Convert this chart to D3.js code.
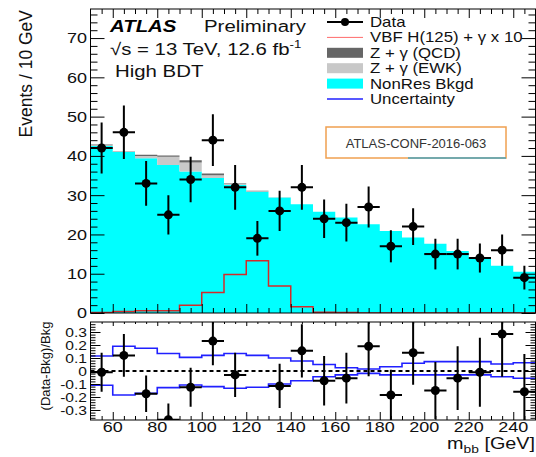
<!DOCTYPE html>
<html>
<head>
<meta charset="utf-8">
<script src="https://cdn.jsdelivr.net/npm/d3@7"></script>
<style>
body { margin: 0; background: #fff; }
svg { display: block; font-family: "Liberation Sans", Arial, Helvetica, sans-serif; }
</style>
</head>
<body>
<div id="chart"></div>
<script>
// bins: lower edge of each 10 GeV bin in m_bb
const binLow = [50, 60, 70, 80, 90, 100, 110, 120, 130, 140, 150, 160, 170, 180, 190, 200, 210, 220, 230, 240];
const binWidth = 10;

// stacked backgrounds (events / 10 GeV)
const nonRes = [42.5, 41.0, 39.4, 37.7, 36.0, 34.4, 32.6, 30.9, 29.4, 27.7, 25.8, 24.3, 22.6, 20.9, 19.2, 17.6, 15.8, 13.9, 12.0, 10.5];
const zgEwk  = [0.2, 0.1, 0.6, 2.1, 2.3, 0.7, 0.3, 0.1, 0.1, 0, 0, 0, 0, 0, 0, 0, 0, 0, 0, 0];
const zgQcd  = [0.2, 0.1, 0.3, 0.3, 0.6, 0.4, 0.15, 0.1, 0, 0, 0, 0, 0, 0, 0, 0, 0, 0, 0, 0];
// signal x 10
const vbfSig = [0.1, 0.4, 0.6, 0.6, 2.0, 5.2, 9.8, 13.3, 6.9, 1.6, 0.2, 0.1, 0, 0, 0, 0, 0, 0, 0, 0];

// data
const dataVals = [42, 46, 33, 25, 34, 44, 32, 19, 26, 32, 24, 23, 27, 17, 22, 15, 15, 14, 16, 9];
const dataErr  = [6.5, 6.8, 5.7, 5.0, 5.8, 6.6, 5.7, 4.4, 5.1, 5.7, 4.9, 4.8, 5.2, 4.1, 4.7, 3.9, 3.9, 3.7, 4.0, 3.0];

// ratio panel (Data-Bkg)/Bkg
const ratioVals = [-0.01, 0.12, -0.175, -0.375, -0.125, 0.23, -0.03, -0.39, -0.115, 0.155, -0.075, -0.055, 0.19, -0.185, 0.14, -0.15, -0.055, -0.01, 0.285, -0.16];
const ratioErr  = [0.15, 0.165, 0.14, 0.125, 0.15, 0.185, 0.17, 0.14, 0.17, 0.205, 0.19, 0.195, 0.23, 0.195, 0.245, 0.22, 0.245, 0.265, 0.33, 0.29];
const uncUp   = [0.115, 0.19, 0.175, 0.135, 0.105, 0.12, 0.135, 0.12, 0.10, 0.077, 0.05, 0.025, 0.015, 0.033, 0.06, 0.072, 0.072, 0.072, 0.054, 0.064];
const uncDown = [-0.11, -0.185, -0.172, -0.128, -0.108, -0.12, -0.133, -0.125, -0.1, -0.075, -0.044, -0.03, -0.018, -0.03, -0.03, -0.03, -0.03, -0.03, -0.044, -0.056];

// tick labels
const yTicks = [0, 10, 20, 30, 40, 50, 60, 70];
const xTicks = [60, 80, 100, 120, 140, 160, 180, 200, 220, 240];
const rTicks = [-0.3, -0.2, -0.1, 0, 0.1, 0.2, 0.3];

const legendItems = [
    { label: "Data", kind: "data" },
    { label: "VBF H(125) + \u03b3 x 10", kind: "line", color: "#ff6b6b", width: 1 },
    { label: "Z + \u03b3 (QCD)", kind: "box", color: "#666666" },
    { label: "Z + \u03b3 (EWK)", kind: "box", color: "#c8c8c8" },
    { label: "NonRes Bkgd", kind: "box", color: "#00ffff" },
    { label: "Uncertainty", kind: "line", color: "#2020ff", width: 1.6 }
];

// horizontal stretch of the ROOT text
const SX = 1.2;

const W = 536, H = 457;
const svg = d3.select("#chart").append("svg")
    .attr("width", W)
    .attr("height", H);

const x = d3.scaleLinear().domain([50, 250]).range([90.5, 535.5]);
const y = d3.scaleLinear().domain([0, 77.4]).range([313, 9]);
const yr = d3.scaleLinear().domain([-0.377, 0.377]).range([420, 322]);

function text(g, tx, ty, str, size, anchor) {
    return g.append("text")
        .attr("transform", `translate(${tx},${ty}) scale(${SX},1)`)
        .attr("text-anchor", anchor || "start")
        .attr("font-size", size)
        .attr("fill", "#111")
        .text(str);
}

// step points for a histogram
function steps(lo, hi) {
    const pts = binLow.map((b, i) => [b, lo[i], hi[i]]);
    const n = binLow.length - 1;
    pts.push([binLow[n] + binWidth, lo[n], hi[n]]);
    return pts;
}

function ticks(g, axisFn, scale, values, size, tx, ty) {
    g.append("g")
        .attr("transform", `translate(${tx},${ty})`)
        .call(axisFn(scale).tickValues(values).tickSize(-size).tickFormat(""))
        .call(a => a.select(".domain").remove());
}

const defs = svg.append("defs");
defs.append("clipPath").attr("id", "clipMain").append("rect")
    .attr("x", x(50)).attr("y", y(77.4))
    .attr("width", x(250) - x(50)).attr("height", y(0) - y(77.4));
defs.append("clipPath").attr("id", "clipRatio").append("rect")
    .attr("x", x(50)).attr("y", yr(0.377))
    .attr("width", x(250) - x(50)).attr("height", yr(-0.377) - yr(0.377));

// ---------------- main panel ----------------
const main = svg.append("g").attr("clip-path", "url(#clipMain)");

const zeros = binLow.map(() => 0);
const topEwk = nonRes.map((v, i) => v + zgEwk[i]);
const topQcd = topEwk.map((v, i) => v + zgQcd[i]);

const area = d3.area()
    .x(d => x(d[0]))
    .y0(d => y(d[1]))
    .y1(d => y(d[2]))
    .curve(d3.curveStepAfter);

main.append("path").attr("d", area(steps(zeros, nonRes))).attr("fill", "#00ffff");
main.append("path").attr("d", area(steps(nonRes, topEwk))).attr("fill", "#c8c8c8");
main.append("path").attr("d", area(steps(topEwk, topQcd))).attr("fill", "#666666");

const stepLine = d3.line()
    .x(d => x(d[0]))
    .y(d => y(d[2]))
    .curve(d3.curveStepAfter);

main.append("path")
    .attr("d", stepLine(steps(zeros, vbfSig)))
    .attr("fill", "none")
    .attr("stroke", "#d42a2a")
    .attr("stroke-width", 1.5);

// data points
const pts = main.selectAll(".pt").data(binLow).enter().append("g").attr("class", "pt");
pts.append("line")
    .attr("x1", d => x(d + binWidth / 2)).attr("x2", d => x(d + binWidth / 2))
    .attr("y1", (d, i) => y(dataVals[i] - dataErr[i]))
    .attr("y2", (d, i) => y(dataVals[i] + dataErr[i]))
    .attr("stroke", "#000").attr("stroke-width", 2);
pts.append("line")
    .attr("x1", d => x(d)).attr("x2", d => x(d + binWidth))
    .attr("y1", (d, i) => y(dataVals[i])).attr("y2", (d, i) => y(dataVals[i]))
    .attr("stroke", "#000").attr("stroke-width", 2);
pts.append("circle")
    .attr("cx", d => x(d + binWidth / 2))
    .attr("cy", (d, i) => y(dataVals[i]))
    .attr("r", 4.5)
    .attr("fill", "#000");

// main axes ticks (inward, all sides)
const yMinor = d3.range(0, 77.4, 2).filter(v => v % 10 !== 0);
const xMinor = d3.range(55, 250, 5).filter(v => v % 20 !== 0);
const xMajor = [60, 80, 100, 120, 140, 160, 180, 200, 220, 240];
ticks(svg, d3.axisLeft, y, yTicks, 14, x(50), 0);
ticks(svg, d3.axisLeft, y, yMinor, 7, x(50), 0);
ticks(svg, d3.axisRight, y, yTicks, 14, x(250), 0);
ticks(svg, d3.axisRight, y, yMinor, 7, x(250), 0);
ticks(svg, d3.axisBottom, x, xMajor, 9, 0, y(0));
ticks(svg, d3.axisBottom, x, xMinor, 5, 0, y(0));
ticks(svg, d3.axisTop, x, xMajor, 9, 0, y(77.4));
ticks(svg, d3.axisTop, x, xMinor, 5, 0, y(77.4));

svg.append("rect")
    .attr("x", x(50)).attr("y", y(77.4))
    .attr("width", x(250) - x(50)).attr("height", y(0) - y(77.4))
    .attr("fill", "none").attr("stroke", "#000").attr("stroke-width", 1);

yTicks.forEach(v => text(svg, 87, y(v) + 5.4, v, 15, "end"));

// y title
svg.append("text")
    .attr("transform", "translate(32,10) rotate(-90)")
    .attr("text-anchor", "end")
    .attr("font-size", 17.5)
    .attr("fill", "#111")
    .text("Events / 10 GeV");

// ATLAS label block
svg.append("text")
    .attr("transform", `translate(110,32) scale(${SX},1)`)
    .attr("font-size", 17)
    .attr("font-weight", "bold")
    .attr("font-style", "italic")
    .attr("fill", "#000")
    .text("ATLAS");
text(svg, 204, 32, "Preliminary", 17);
const lumi = text(svg, 110, 55, "", 17);
lumi.append("tspan").text("\u221As = 13 TeV, 12.6 fb");
lumi.append("tspan").attr("font-size", 11).attr("dy", -7).text("-1");
text(svg, 115, 77, "High BDT", 17);

// legend
const legX = 327, legW = 36;
legendItems.forEach((it, i) => {
    const cy = 22 + i * 15.4;
    if (it.kind === "data") {
        svg.append("line").attr("x1", legX).attr("x2", legX + legW)
            .attr("y1", cy).attr("y2", cy).attr("stroke", "#000").attr("stroke-width", 2);
        svg.append("circle").attr("cx", legX + legW / 2).attr("cy", cy).attr("r", 4).attr("fill", "#000");
    } else if (it.kind === "line") {
        svg.append("line").attr("x1", legX).attr("x2", legX + legW)
            .attr("y1", cy).attr("y2", cy).attr("stroke", it.color).attr("stroke-width", it.width);
    } else {
        svg.append("rect").attr("x", legX).attr("y", cy - 5)
            .attr("width", legW).attr("height", 10).attr("fill", it.color);
    }
    text(svg, 370, cy + 5, it.label, 14);
});

// conf note box
svg.append("rect")
    .attr("x", 326).attr("y", 127).attr("width", 180).attr("height", 31)
    .attr("fill", "#fff").attr("stroke", "#f0a050").attr("stroke-width", 1.5);
svg.append("line")
    .attr("x1", 408).attr("x2", 506).attr("y1", 158).attr("y2", 158)
    .attr("stroke", "#4aa5bd").attr("stroke-width", 1.5);
svg.append("text")
    .attr("x", 416).attr("y", 148)
    .attr("text-anchor", "middle")
    .attr("font-size", 13)
    .attr("fill", "#333")
    .text("ATLAS-CONF-2016-063");

// ---------------- ratio panel ----------------
const ratio = svg.append("g").attr("clip-path", "url(#clipRatio)");

ratio.append("line")
    .attr("x1", x(50)).attr("x2", x(250))
    .attr("y1", yr(0)).attr("y2", yr(0))
    .attr("stroke", "#000").attr("stroke-width", 1.8)
    .attr("stroke-dasharray", "4,3");

const rLine = d3.line()
    .x(d => x(d[0]))
    .y(d => yr(d[2]))
    .curve(d3.curveStepAfter);
[uncUp, uncDown].forEach(u => {
    ratio.append("path")
        .attr("d", rLine(steps(zeros, u)))
        .attr("fill", "none")
        .attr("stroke", "#2020ff")
        .attr("stroke-width", 1.6);
});

const rIdx = binLow.map((b, i) => i).filter(i => ratioVals[i] >= yr.domain()[0] && ratioVals[i] <= yr.domain()[1]);
const rPts = ratio.selectAll(".rpt").data(rIdx).enter().append("g").attr("class", "rpt");
rPts.append("line")
    .attr("x1", i => x(binLow[i] + binWidth / 2)).attr("x2", i => x(binLow[i] + binWidth / 2))
    .attr("y1", i => yr(ratioVals[i] - ratioErr[i]))
    .attr("y2", i => yr(ratioVals[i] + ratioErr[i]))
    .attr("stroke", "#000").attr("stroke-width", 2);
rPts.append("line")
    .attr("x1", i => x(binLow[i])).attr("x2", i => x(binLow[i] + binWidth))
    .attr("y1", i => yr(ratioVals[i])).attr("y2", i => yr(ratioVals[i]))
    .attr("stroke", "#000").attr("stroke-width", 2);
rPts.append("circle")
    .attr("cx", i => x(binLow[i] + binWidth / 2))
    .attr("cy", i => yr(ratioVals[i]))
    .attr("r", 4.5)
    .attr("fill", "#000");

const rMinor = d3.range(-0.36, 0.37, 0.02).filter(v => Math.abs(Math.round(v * 50) % 5) !== 0);
ticks(svg, d3.axisLeft, yr, rTicks, 10, x(50), 0);
ticks(svg, d3.axisLeft, yr, rMinor, 5, x(50), 0);
ticks(svg, d3.axisRight, yr, rTicks, 10, x(250), 0);
ticks(svg, d3.axisRight, yr, rMinor, 5, x(250), 0);
ticks(svg, d3.axisBottom, x, xMajor, 8, 0, yr(-0.377));
ticks(svg, d3.axisBottom, x, xMinor, 4, 0, yr(-0.377));
ticks(svg, d3.axisTop, x, xMajor, 4, 0, yr(0.377));
ticks(svg, d3.axisTop, x, xMinor, 2, 0, yr(0.377));

svg.append("rect")
    .attr("x", x(50)).attr("y", yr(0.377))
    .attr("width", x(250) - x(50)).attr("height", yr(-0.377) - yr(0.377))
    .attr("fill", "none").attr("stroke", "#000").attr("stroke-width", 1);

rTicks.forEach(v => text(svg, 87, yr(v) + 4.7, v === 0 ? "0" : v.toFixed(1), 13, "end"));
xTicks.forEach(v => text(svg, x(v), 432, v, 15, "middle"));

svg.append("text")
    .attr("transform", "translate(50,366) rotate(-90)")
    .attr("text-anchor", "middle")
    .attr("font-size", 13)
    .attr("fill", "#111")
    .text("(Data-Bkg)/Bkg");

const xt = text(svg, 535, 449, "", 16.5, "end");
xt.append("tspan").text("m");
xt.append("tspan").attr("font-size", 11.5).attr("dy", 4).text("bb");
xt.append("tspan").attr("dy", -4).text(" [GeV]");
</script>
</body>
</html>
